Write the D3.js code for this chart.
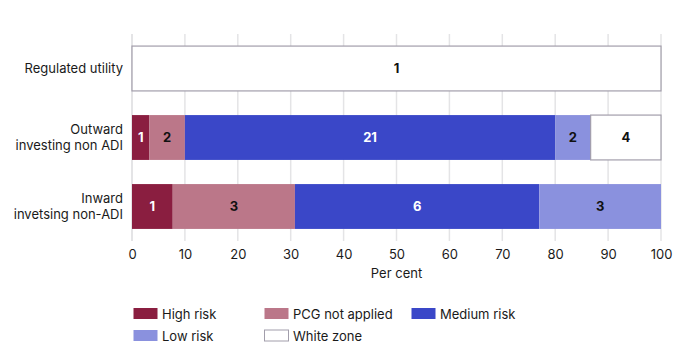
<!DOCTYPE html>
<html>
<head>
<meta charset="utf-8">
<script src="https://cdn.jsdelivr.net/npm/d3@7"></script>
<style>
  body { margin: 0; background: #fff; }
  svg text { font-family: Inter, "Noto Sans", sans-serif; fill: #1a1a1a; }
</style>
</head>
<body>
<div id="chart"></div>
<script>
// categories (top to bottom)
var categories = ["Regulated utility", "Outward\ninvesting non ADI", "Inward\ninvetsing non-ADI"];
var seriesNames = ["High risk", "PCG not applied", "Medium risk", "Low risk", "White zone"];
var seriesColors = ["#8a1e40", "#bb7789", "#3a47c8", "#8a91de", "#ffffff"];
var labelColors = ["#fff", "#111", "#fff", "#111", "#111"];

// per cent share per series
var highRisk   = [0,    3.3, 7.7];
var pcgNot     = [0,    6.7, 23.1];
var mediumRisk = [0,   70.0, 46.2];
var lowRisk    = [0,    6.7, 23.0];
var whiteZone  = [100, 13.3, 0];
// counts printed inside the segments
var highCount   = [0, 1, 1];
var pcgCount    = [0, 2, 3];
var mediumCount = [0, 21, 6];
var lowCount    = [0, 2, 3];
var whiteCount  = [1, 4, 0];

var xTicks = [0, 10, 20, 30, 40, 50, 60, 70, 80, 90, 100];

var values = [highRisk, pcgNot, mediumRisk, lowRisk, whiteZone];
var counts = [highCount, pcgCount, mediumCount, lowCount, whiteCount];

var width = 689, height = 362;
var svg = d3.select("#chart").append("svg")
    .attr("width", width)
    .attr("height", height);

var x = d3.scaleLinear().domain([0, 100]).range([132, 661]);
var y = d3.scaleBand().domain(d3.range(categories.length)).range([34, 241])
    .paddingInner(0.35).paddingOuter(0.175);

// gridlines
svg.append("g")
    .selectAll("line")
    .data(xTicks)
    .enter()
    .append("line")
    .attr("x1", function (d) { return x(d); })
    .attr("x2", function (d) { return x(d); })
    .attr("y1", 34)
    .attr("y2", 241)
    .attr("stroke", "#e4e4e6")
    .attr("stroke-width", function (d) { return d === 0 ? 2 : 1.5; });

// stack rows
var rows = categories.map(function (c, i) {
    var start = 0;
    return values.map(function (s, k) {
        var seg = { row: i, k: k, x0: start, x1: start + s[i], count: counts[k][i] };
        start += s[i];
        return seg;
    }).filter(function (d) { return d.x1 > d.x0; });
});
var segs = [].concat.apply([], rows);

svg.append("g")
    .selectAll("rect")
    .data(segs)
    .enter()
    .append("rect")
    .attr("x", function (d) { return x(d.x0); })
    .attr("y", function (d) { return y(d.row); })
    .attr("width", function (d) { return x(d.x1) - x(d.x0); })
    .attr("height", y.bandwidth())
    .attr("fill", function (d) { return seriesColors[d.k]; })
    .attr("stroke", function (d) { return d.k === 4 ? "#a29eab" : "none"; })
    .attr("stroke-width", 1.2);

svg.append("g")
    .selectAll("text")
    .data(segs)
    .enter()
    .append("text")
    .attr("x", function (d) { return x((d.x0 + d.x1) / 2); })
    .attr("y", function (d) { return y(d.row) + y.bandwidth() / 2; })
    .attr("dy", "0.35em")
    .attr("text-anchor", "middle")
    .style("font-size", "13px")
    .style("font-weight", "bold")
    .style("fill", function (d) { return labelColors[d.k]; })
    .text(function (d) { return d.count; });

// category labels
var cat = svg.append("g")
    .selectAll("text")
    .data(categories)
    .enter()
    .append("text")
    .attr("text-anchor", "end")
    .attr("x", 123)
    .attr("y", function (d, i) { return y(i) + y.bandwidth() / 2; })
    .style("font-size", "13px");
cat.each(function (d) {
    var lines = d.split("\n");
    var t = d3.select(this);
    lines.forEach(function (l, j) {
        t.append("tspan")
            .attr("x", 123)
            .attr("dy", j === 0 ? (0.35 - (lines.length - 1) * 0.6) + "em" : "1.2em")
            .text(l);
    });
});

// x axis
var axis = svg.append("g")
    .attr("transform", "translate(0,241)")
    .call(d3.axisBottom(x).tickValues(xTicks).tickSize(0).tickPadding(9));
axis.select(".domain").remove();
axis.selectAll("text")
    .style("font-size", "13px")
    .style("font-family", "Inter, 'Noto Sans', sans-serif")
    .attr("fill", "#1a1a1a");

svg.append("text")
    .attr("x", x(50))
    .attr("y", 278)
    .attr("text-anchor", "middle")
    .style("font-size", "13px")
    .text("Per cent");

// legend
var legendPos = [[133, 314], [264, 314], [411, 314], [133, 336], [264, 336]];
var legend = svg.append("g")
    .selectAll("g")
    .data(seriesNames)
    .enter()
    .append("g")
    .attr("transform", function (d, i) {
        return "translate(" + legendPos[i][0] + "," + legendPos[i][1] + ")";
    });
legend.append("rect")
    .attr("x", 0.5)
    .attr("y", -6)
    .attr("width", 24)
    .attr("height", 11)
    .attr("fill", function (d, i) { return seriesColors[i]; })
    .attr("stroke", function (d, i) { return i === 4 ? "#a29eab" : "none"; });
legend.append("text")
    .attr("x", 29)
    .attr("y", 0)
    .attr("dy", "0.35em")
    .style("font-size", "13px")
    .text(String);
</script>
</body>
</html>
